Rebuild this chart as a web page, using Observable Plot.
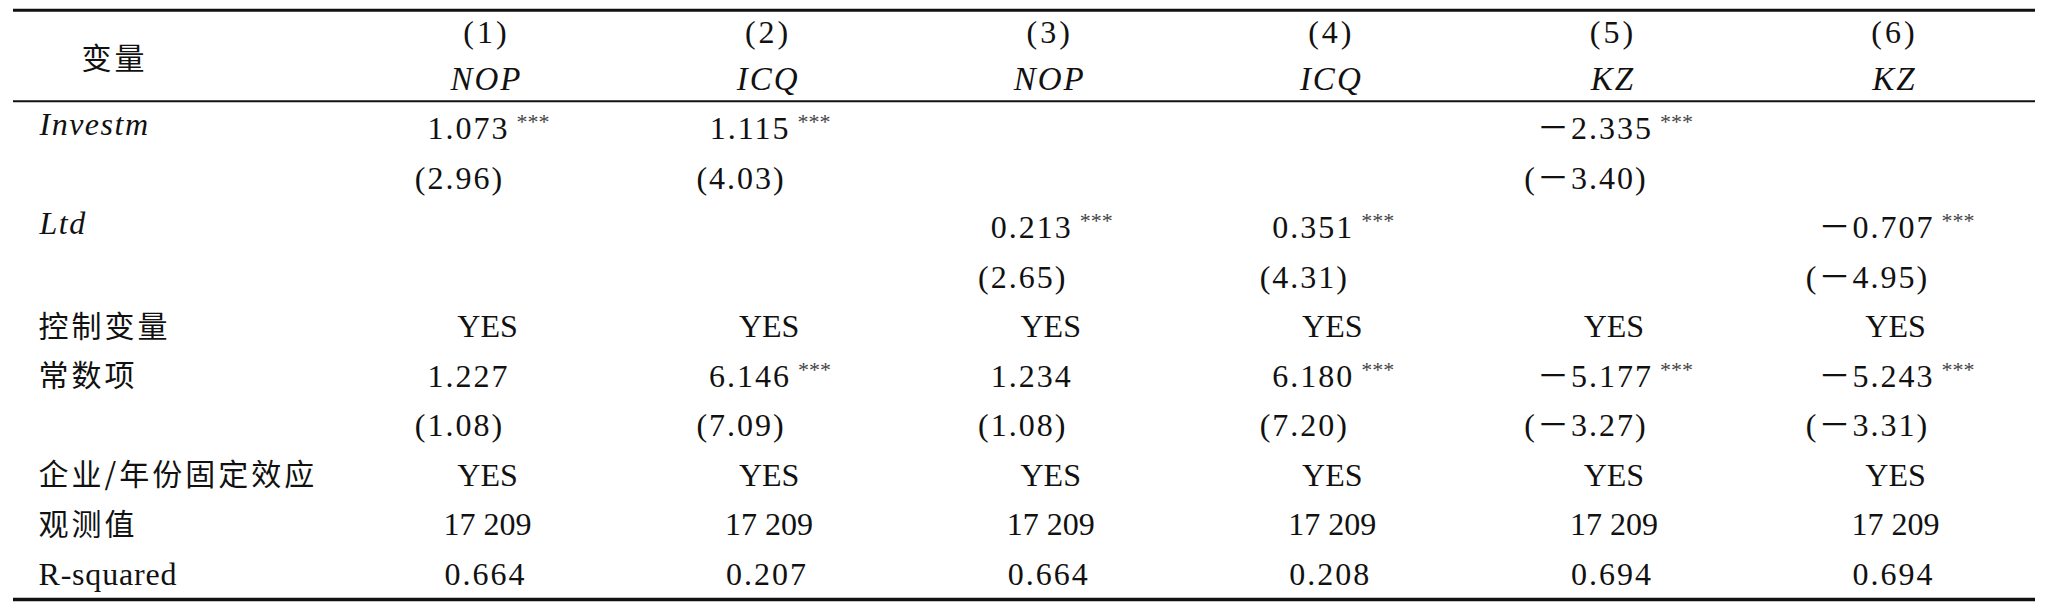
<!DOCTYPE html>
<html><head><meta charset="utf-8">
<script src="https://cdn.jsdelivr.net/npm/d3@7"></script>
<script src="https://cdn.jsdelivr.net/npm/@observablehq/plot@0.6"></script>
<style>
html,body{margin:0;padding:0;background:#fff;}
#chart{width:2048px;height:608px;overflow:hidden;}
g[aria-description="coef"] text, g[aria-description="tstat"] text, g[aria-description="decimal"] text {letter-spacing:2px;}
g[aria-description="header-model"] text {letter-spacing:3px;}
g[aria-description="header-dep"] text {letter-spacing:2px;}
g[aria-description="label-italic"] text {letter-spacing:1.5px;}
g[aria-description="label-cjk"] text {letter-spacing:3px;}
g[aria-description="label-latin"] text {letter-spacing:0.8px;}
</style></head>
<body><div id="chart"></div>
<script>
// ---- data ----
const cornerLabel = "变量";
const models = ["(1)", "(2)", "(3)", "(4)", "(5)", "(6)"];
const depVars = ["NOP", "ICQ", "NOP", "ICQ", "KZ", "KZ"];
const investmCoef = [1.073, 1.115, null, null, -2.335, null];
const investmStars = ["***", "***", "", "", "***", ""];
const investmT = [2.96, 4.03, null, null, -3.40, null];
const ltdCoef = [null, null, 0.213, 0.351, null, -0.707];
const ltdStars = ["", "", "***", "***", "", "***"];
const ltdT = [null, null, 2.65, 4.31, null, -4.95];
const controls = ["YES", "YES", "YES", "YES", "YES", "YES"];
const constCoef = [1.227, 6.146, 1.234, 6.180, -5.177, -5.243];
const constStars = ["", "***", "", "***", "***", "***"];
const constT = [1.08, 7.09, 1.08, 7.20, -3.27, -3.31];
const fixedEffects = ["YES", "YES", "YES", "YES", "YES", "YES"];
const observations = [17209, 17209, 17209, 17209, 17209, 17209];
const rSquared = [0.664, 0.207, 0.664, 0.208, 0.694, 0.694];
const rowLabels = ["Investm", "", "Ltd", "", "控制变量", "常数项", "", "企业/年份固定效应", "观测值", "R-squared"];
const italicLabels = ["Investm", "Ltd"];

// ---- layout helpers ----
const X0 = 488, X1 = 1896, step = (X1 - X0) / 5;
const LATIN = "'Liberation Serif', 'Times New Roman', serif";
const CJK = "'Noto Sans CJK SC', sans-serif";
const NUMFONT = "'Liberation Serif', 'Noto Sans CJK SC', serif";
const FS = 32, LS = 2;
const COEF_DX = -20, T_DX = -29;
const fmtCoef = v => (v < 0 ? "－" : "") + Math.abs(v).toFixed(3);
const fmtT = v => "(" + (v < 0 ? "－" : "") + Math.abs(v).toFixed(2) + ")";
const fmtObs = v => d3.format(",")(v).replace(/,/g, " ");

// measure rendered width of a coefficient string (same font and spacing as the mark)
const mSvg = d3.select("body").append("svg").attr("width", 10).attr("height", 10).style("position", "absolute").style("left", "-9999px");
const mText = mSvg.append("text").attr("font-family", NUMFONT).attr("font-size", FS).style("letter-spacing", LS + "px");
const textW = s => { mText.text(s); return mText.node().getComputedTextLength(); };

const bodyStart = 2; // first body row index (after two header rows)
const coefCells = [], tCells = [], starCells = [], centerCells = [], decimalCells = [];
function addCoef(row, coefs, stars, ts) {
  coefs.forEach((v, i) => {
    if (v == null) return;
    const s = fmtCoef(v);
    coefCells.push({col: i, row, text: s});
    if (stars[i]) starCells.push({col: i + (COEF_DX + textW(s) / 2 - LS + 9) / step, row, text: stars[i]});
  });
  ts.forEach((v, i) => { if (v != null) tCells.push({col: i, row: row + 1, text: fmtT(v)}); });
}
addCoef(bodyStart + 0, investmCoef, investmStars, investmT);
addCoef(bodyStart + 2, ltdCoef, ltdStars, ltdT);
controls.forEach((v, i) => centerCells.push({col: i, row: bodyStart + 4, text: v}));
addCoef(bodyStart + 5, constCoef, constStars, constT);
fixedEffects.forEach((v, i) => centerCells.push({col: i, row: bodyStart + 7, text: v}));
observations.forEach((v, i) => centerCells.push({col: i, row: bodyStart + 8, text: fmtObs(v)}));
rSquared.forEach((v, i) => decimalCells.push({col: i, row: bodyStart + 9, text: v.toFixed(3)}));
mSvg.remove();

const labels = rowLabels.map((t, i) => ({row: bodyStart + i, text: t})).filter(d => d.text);
const italic = labels.filter(d => italicLabels.includes(d.text));
const cjk = labels.filter(d => /[\u4e00-\u9fff]/.test(d.text));
const latin = labels.filter(d => !italic.includes(d) && !cjk.includes(d));

const headerRows = [0.05, 1];
const lines = [{y: -0.4, w: 3}, {y: 1.44, w: 2}, {y: 11.505, w: 3.3}];

const chart = Plot.plot({
  width: 2048,
  height: 608,
  marginLeft: 13,
  marginRight: 13,
  marginTop: 0,
  marginBottom: 0,
  x: {domain: [0, 5], range: [X0, X1], axis: null},
  y: {domain: [0, 11], range: [29.5, 574], axis: null},
  style: {background: "#fff", color: "#111"},
  marks: [
    ...lines.map(l => Plot.ruleY([l.y], {stroke: "#111", strokeWidth: l.w})),
    Plot.text([cornerLabel], {frameAnchor: "left", dx: 101, y: [0.6], text: d => d, textAnchor: "middle", fontFamily: CJK, fontSize: 30, fill: "#111", ariaDescription: "label-cjk"}),
    Plot.text(models, {x: (d, i) => i, y: () => headerRows[0], text: d => d, dx: -2, fontFamily: LATIN, fontSize: FS, fill: "#111", ariaDescription: "header-model"}),
    Plot.text(depVars, {x: (d, i) => i, y: () => headerRows[1], text: d => d, dx: -2, fontFamily: LATIN, fontStyle: "italic", fontSize: 33, fill: "#111", ariaDescription: "header-dep"}),
    Plot.text(italic, {frameAnchor: "left", dx: 26, y: "row", dy: -4, text: "text", textAnchor: "start", fontFamily: LATIN, fontStyle: "italic", fontSize: FS, fill: "#111", ariaDescription: "label-italic"}),
    Plot.text(cjk, {frameAnchor: "left", dx: 25, y: "row", text: "text", textAnchor: "start", fontFamily: CJK, fontSize: 30, fill: "#111", ariaDescription: "label-cjk"}),
    Plot.text(latin, {frameAnchor: "left", dx: 25, y: "row", text: "text", textAnchor: "start", fontFamily: LATIN, fontSize: FS, fill: "#111", ariaDescription: "label-latin"}),
    Plot.text(coefCells, {x: "col", y: "row", text: "text", dx: COEF_DX, fontFamily: NUMFONT, fontSize: FS, fill: "#111", ariaDescription: "coef"}),
    Plot.text(starCells, {x: "col", y: "row", text: "text", dy: -7, textAnchor: "start", fontFamily: LATIN, fontSize: 22, fill: "#444", ariaDescription: "stars"}),
    Plot.text(tCells, {x: "col", y: "row", text: "text", dx: T_DX, fontFamily: NUMFONT, fontSize: FS, fill: "#111", ariaDescription: "tstat"}),
    Plot.text(centerCells, {x: "col", y: "row", text: "text", dx: -1, fontFamily: LATIN, fontSize: FS, fill: "#111", ariaDescription: "center"}),
    Plot.text(decimalCells, {x: "col", y: "row", text: "text", dx: -3, fontFamily: LATIN, fontSize: FS, fill: "#111", ariaDescription: "decimal"})
  ]
});
document.getElementById("chart").appendChild(chart);
</script>
</body></html>
